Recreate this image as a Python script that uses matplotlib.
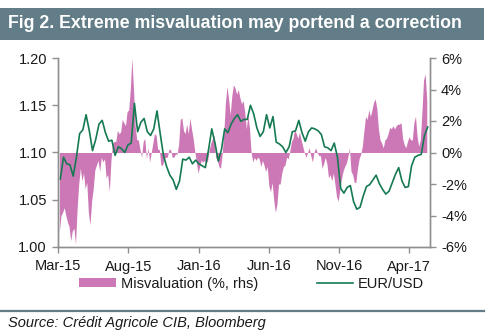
import matplotlib
matplotlib.use("Agg")
import matplotlib.pyplot as plt
import matplotlib.dates as mdates
from matplotlib.patches import Rectangle, Patch
from matplotlib.lines import Line2D
from matplotlib.ticker import FuncFormatter, MultipleLocator
import pandas as pd

plt.rcParams['font.family'] = ['Liberation Sans', 'DejaVu Sans']

title = "Fig 2. Extreme misvaluation may portend a correction"
source = "Source: Crédit Agricole CIB, Bloomberg"
label_mis = "Misvaluation (%, rhs)"
label_fx = "EUR/USD"

# EUR/USD, weekly from 2015-03-06
fx_start = "2015-03-06"
eurusd = [
    1.072, 1.095, 1.088, 1.087, 1.075, 1.095, 1.120, 1.124, 1.140, 1.123,
    1.102, 1.114, 1.130, 1.134, 1.121, 1.112, 1.113, 1.097, 1.106, 1.104,
    1.100, 1.108, 1.110, 1.152, 1.122, 1.132, 1.136, 1.122, 1.118, 1.125,
    1.144, 1.120, 1.097, 1.085, 1.076, 1.071, 1.061, 1.070, 1.093, 1.092,
    1.095, 1.088, 1.092, 1.088, 1.086, 1.084, 1.103, 1.125, 1.110, 1.091,
    1.103, 1.125, 1.121, 1.130, 1.136, 1.140, 1.133, 1.135, 1.135, 1.150,
    1.141, 1.126, 1.117, 1.122, 1.140, 1.126, 1.138, 1.111, 1.109, 1.106,
    1.100, 1.106, 1.122, 1.123, 1.134, 1.121, 1.112, 1.122, 1.126, 1.125,
    1.123, 1.119, 1.106, 1.105, 1.102, 1.110, 1.095, 1.062, 1.057, 1.063,
    1.065, 1.048, 1.040, 1.042, 1.054, 1.064, 1.066, 1.071, 1.076, 1.067,
    1.061, 1.056, 1.059, 1.068, 1.077, 1.084, 1.070, 1.063, 1.064, 1.086,
    1.095, 1.097, 1.098, 1.118, 1.127,
]

# Misvaluation (%), every 3.5 days from 2015-03-04
mis_start = "2015-03-04"
misvaluation = [
    -5.0, -4.0, -3.8, -3.5, -4.0, -4.4, -4.7, -5.6, -5.0, -4.8,
    -5.8, -3.6, -2.0, -1.0, -1.8, -1.3, -2.3, -1.9, -3.8, -4.6,
    -3.1, -2.3, -1.1, -0.8, -0.5, -1.2, -0.3, -0.6, -0.4, -1.6,
    -1.4, -2.5, -0.5, 0.6, 0.7, 0.7, 1.4, 1.2, 1.3, 2.1,
    1.9, 1.7, 2.6, 2.7, 4.0, 6.0, 4.0, 1.7, 0.8, 0.8,
    0.2, -0.3, 0.7, 0.9, -0.4, 0.3, -0.6, 0.0, 0.6, 1.2,
    1.1, 0.2, 0.2, -0.8, -0.8, -0.4, -0.3, -0.3, 0.2, 0.2,
    -0.3, -0.3, -0.1, -0.1, 0.5, 2.1, 2.2, 1.4, 1.2, 1.8,
    1.2, 2.2, 1.5, 0.9, 0.1, -0.6, -1.3, -0.9, -0.5, -0.6,
    -0.5, -0.7, -0.5, 0.2, 0.6, 0.9, 1.1, -0.3, -0.5, -0.9,
    -1.0, -0.1, 1.2, 3.1, 4.2, 3.4, 2.4, 3.6, 4.3, 4.1,
    3.7, 4.0, 3.5, 3.1, 3.3, 2.6, 1.5, 2.4, 1.5, 0.0,
    -0.6, -0.3, -0.5, -0.3, -0.4, -0.9, -0.5, -0.8, -1.2, -0.9,
    -2.1, -2.5, -1.9, -3.0, -3.8, -3.3, -2.0, -2.0, -1.3, -0.9,
    -0.8, -0.3, -0.4, 0.1, 0.7, 0.9, 1.5, 1.2, 0.9, 1.3,
    0.8, 0.4, 0.0, -0.3, 0.0, 0.3, -0.2, -0.6, 0.0, 0.3,
    0.0, -0.2, -0.2, -1.0, -0.7, -0.3, -0.7, -1.6, -1.4, -1.8,
    -1.3, -2.0, -2.8, -3.1, -2.4, -1.7, -1.2, -0.9, -0.7, -0.3,
    0.3, -1.2, -1.4, -1.9, -1.9, -1.0, -0.4, -0.1, 0.4, 1.4,
    2.3, 2.1, 2.7, 2.3, 2.7, 3.2, 3.4, 2.8, 1.5, 0.8,
    0.6, 0.3, 0.8, 0.9, 1.2, 1.6, 1.5, 1.7, 1.5, 1.7,
    1.8, 1.8, 1.9, 0.9, 0.5, 0.3, 0.7, 1.0, 0.8, 0.8,
    1.9, 2.3, 1.0, 0.4, 0.8, 2.6, 4.6, 5.0, 3.3,
]

x_ticks = ["2015-03-01", "2015-08-01", "2016-01-01", "2016-06-01", "2016-11-01", "2017-04-01"]
x_range = ["2015-03-01", "2017-05-17"]
left_range = [1.00, 1.20]
right_range = [-6, 6]

fx_dates = pd.date_range(fx_start, periods=len(eurusd), freq="7D")
mis_dates = pd.date_range(mis_start, periods=len(misvaluation), freq="84h")

PINK = "#cd78b6"
GREEN = "#157a52"
BAR = "#627d87"
SPINE = "#8f8f8f"
TXT = "#1a1a1a"

fig = plt.figure(figsize=(4.89, 3.36), dpi=100)
fig.patch.set_facecolor("white")

# title bar
fig.patches.append(Rectangle((0, 1 - 39.5 / 336), 484 / 489, 32 / 336,
                             transform=fig.transFigure, facecolor=BAR,
                             edgecolor="none", zorder=0))
fig.text(8 / 489, 1 - 24 / 336, title, color="white", fontsize=12.8,
         fontweight="bold", va="center", ha="left")

ax = fig.add_axes([58 / 489, 1 - 247 / 336, (430 - 58) / 489, (247 - 58) / 336])
ax2 = ax.twinx()
ax.set_zorder(ax2.get_zorder() + 1)
ax.patch.set_visible(False)

ax2.fill_between(mis_dates, 0, misvaluation, color=PINK, linewidth=0)
ax.plot(fx_dates, eurusd, color=GREEN, linewidth=1.2)

ax.set_xlim(pd.Timestamp(x_range[0]), pd.Timestamp(x_range[1]))
ax.set_ylim(*left_range)
ax2.set_ylim(*right_range)

ax.set_xticks(pd.to_datetime(x_ticks))
ax.xaxis.set_major_formatter(mdates.DateFormatter("%b-%y"))
ax.yaxis.set_major_locator(MultipleLocator(0.05))
ax.yaxis.set_major_formatter(FuncFormatter(lambda v, p: f"{v:.2f}"))
ax2.yaxis.set_major_locator(MultipleLocator(2))
ax2.yaxis.set_major_formatter(FuncFormatter(lambda v, p: f"{v:.0f}%"))

for a in (ax, ax2):
    for s in a.spines.values():
        s.set_color(SPINE)
        s.set_linewidth(1.0)
    a.spines["top"].set_visible(False)
    a.tick_params(colors=SPINE, labelcolor=TXT, labelsize=10.5,
                  length=4, width=1.0, direction="out")
ax.tick_params(axis="y", pad=4)
ax2.tick_params(axis="y", pad=4)
ax.tick_params(axis="x", pad=5)

handles = [Patch(facecolor=PINK, edgecolor="none", label=label_mis),
           Line2D([0], [0], color=GREEN, linewidth=1.2, label=label_fx)]
fig.legend(handles=handles, loc="center", bbox_to_anchor=(0.515, 1 - 284 / 336),
           ncol=2, frameon=False, fontsize=10.5, handlelength=2.5,
           handleheight=0.6, handletextpad=0.35, columnspacing=4.0,
           labelcolor=TXT)

# separator and source
fig.add_artist(Line2D([0, 484 / 489], [1 - 310.5 / 336] * 2,
                      transform=fig.transFigure, color=BAR, linewidth=1.6))
fig.text(8 / 489, 1 - 323 / 336, source, fontsize=10.5, style="italic",
         color=TXT, va="center", ha="left")

fig.savefig("out.png", dpi=100)
